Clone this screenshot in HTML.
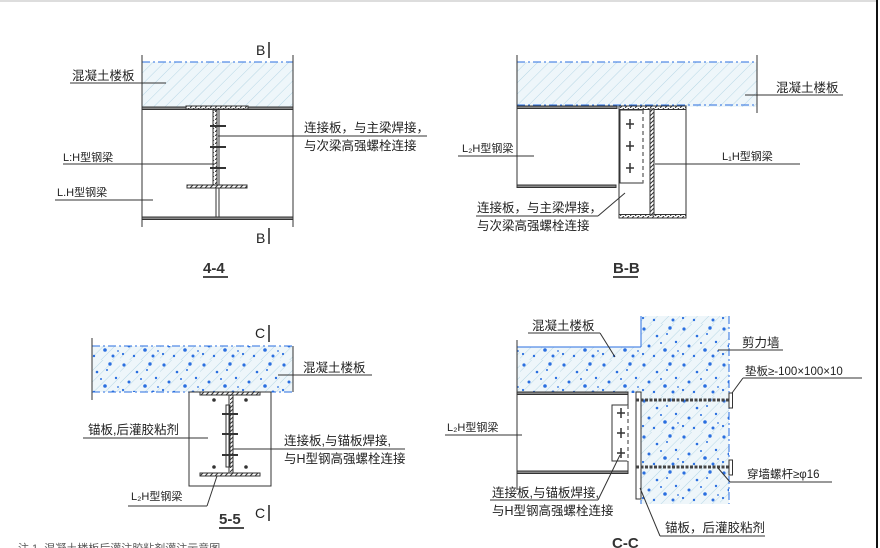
<!DOCTYPE html>
<html><head><meta charset="utf-8"><style>
html,body{margin:0;padding:0;background:#fff;}
svg{display:block;}
text{font-family:"Liberation Sans","Noto Sans CJK SC",sans-serif;font-size:12.5px;fill:#222;}
.t{font-size:15px;font-weight:bold;fill:#333;}
</style></head><body>
<svg width="880" height="548" viewBox="0 0 880 548" xmlns="http://www.w3.org/2000/svg">
<defs>
<pattern id="hat" width="8" height="8" patternUnits="userSpaceOnUse" patternTransform="rotate(45)">
<rect width="8" height="8" fill="#eef6fa"/><line x1="0" y1="0" x2="0" y2="8" stroke="#a9cfe0" stroke-width="0.8"/>
</pattern>
<pattern id="conc" width="40" height="36" patternUnits="userSpaceOnUse">
<rect width="40" height="36" fill="url(#hat)"/>
<g fill="#2a6fe0">
<circle cx="4" cy="5" r="1.6"/><circle cx="17" cy="12" r="1.3"/><circle cx="30" cy="4" r="1.7"/>
<circle cx="9" cy="22" r="1.5"/><circle cx="25" cy="26" r="1.8"/><circle cx="36" cy="18" r="1.2"/>
<circle cx="14" cy="32" r="1.2"/><circle cx="33" cy="32" r="1.5"/><circle cx="21" cy="19" r="1"/>
<circle cx="27" cy="10" r="1"/><circle cx="3" cy="30" r="1.1"/><circle cx="38" cy="27" r="0.9"/>
</g>
</pattern>
<pattern id="flg" width="5" height="4" patternUnits="userSpaceOnUse">
<rect width="5" height="4" fill="#fff"/><line x1="0" y1="4" x2="4" y2="0" stroke="#333" stroke-width="1"/>
</pattern>
</defs>

<line x1="0" y1="1" x2="877" y2="1" stroke="#bbb" stroke-width="1"/>
<line x1="877" y1="0" x2="877" y2="548" stroke="#111" stroke-width="2"/>

<g stroke="#333" fill="none" stroke-width="1">
<!-- 4-4 -->
<rect x="142" y="62" width="151" height="45" fill="url(#hat)" stroke="none"/>
<line x1="142" y1="62" x2="293" y2="62" stroke="#2a6fe0" stroke-dasharray="8,3,2,3"/>
<line x1="142" y1="55" x2="142" y2="227"/><line x1="293" y1="55" x2="293" y2="227"/>
<rect x="142" y="107" width="151" height="2.5" fill="#888"/>
<rect x="186" y="106" width="62" height="3" fill="url(#flg)"/>
<rect x="142" y="217" width="151" height="2.5" fill="#888"/>
<line x1="216" y1="109" x2="216" y2="217"/><line x1="219" y1="109" x2="219" y2="217"/>
<rect x="213" y="110" width="4" height="76" fill="url(#flg)"/>
<rect x="187" y="185" width="60" height="3" fill="url(#flg)"/>
<line x1="210" y1="126" x2="226" y2="126" stroke-width="2"/><line x1="210" y1="147" x2="226" y2="147" stroke-width="2"/><line x1="210" y1="168" x2="226" y2="168" stroke-width="2"/>
<line x1="269" y1="42" x2="269" y2="58" stroke-width="1.6"/><line x1="269" y1="228" x2="269" y2="244" stroke-width="1.6"/>
<line x1="70" y1="83" x2="166" y2="83"/>
<line x1="218" y1="136" x2="427" y2="136"/>
<line x1="63" y1="164" x2="215" y2="164"/>
<line x1="55" y1="200" x2="153" y2="200"/>
<line x1="203" y1="277" x2="228" y2="277" stroke-width="1.8"/>

<!-- B-B -->
<rect x="517" y="62" width="240" height="45" fill="url(#hat)" stroke="none"/>
<line x1="517" y1="62" x2="757" y2="62" stroke="#2a6fe0" stroke-dasharray="8,3,2,3"/>
<line x1="517" y1="105" x2="757" y2="105" stroke="#2a6fe0" stroke-dasharray="8,3,2,3"/>
<line x1="517" y1="55" x2="517" y2="188"/><line x1="757" y1="55" x2="757" y2="113"/>
<rect x="517" y="106" width="100" height="2.5" fill="#888"/>
<rect x="517" y="185" width="99" height="2.5" fill="#888"/>
<rect x="619" y="106" width="67" height="112"/>
<rect x="619" y="106" width="67" height="3.5" fill="url(#flg)"/>
<rect x="619" y="214.5" width="67" height="3.5" fill="url(#flg)"/>
<rect x="650" y="109" width="4" height="106" fill="url(#flg)"/>
<rect x="620" y="110" width="23" height="73"/>
<line x1="643" y1="110" x2="643" y2="183" stroke="#fff" stroke-width="1.5"/>
<line x1="643" y1="110" x2="643" y2="183" stroke-dasharray="4,3"/>
<g stroke-width="1.5"><line x1="630" y1="119" x2="630" y2="129"/><line x1="626" y1="124" x2="634" y2="124"/>
<line x1="630" y1="141" x2="630" y2="151"/><line x1="626" y1="146" x2="634" y2="146"/>
<line x1="630" y1="163" x2="630" y2="173"/><line x1="626" y1="168" x2="634" y2="168"/></g>
<line x1="745" y1="95" x2="843" y2="95"/>
<line x1="458" y1="156" x2="534" y2="156"/>
<line x1="655" y1="164" x2="800" y2="164"/>
<line x1="476" y1="216" x2="598" y2="216"/><line x1="598" y1="216" x2="625" y2="193"/>
<line x1="613" y1="277" x2="638" y2="277" stroke-width="1.8"/>

<!-- 5-5 -->
<rect x="92" y="346" width="201" height="46" fill="url(#conc)" stroke="none"/>
<line x1="92" y1="346" x2="293" y2="346" stroke="#2a6fe0" stroke-dasharray="8,3,2,3"/>
<line x1="92" y1="392" x2="293" y2="392" stroke="#2a6fe0" stroke-dasharray="8,3,2,3"/>
<line x1="293" y1="346" x2="293" y2="392"/><line x1="92" y1="338" x2="92" y2="400"/>
<rect x="189" y="392" width="82" height="94"/>
<rect x="200" y="392" width="60" height="3" fill="url(#flg)"/>
<rect x="200" y="473" width="60" height="3" fill="url(#flg)"/>
<rect x="229" y="395" width="4" height="78" fill="url(#flg)"/>
<rect x="226" y="405" width="4" height="62"/>
<line x1="222" y1="414" x2="238" y2="414" stroke-width="2"/><line x1="222" y1="434" x2="238" y2="434" stroke-width="2"/><line x1="222" y1="455" x2="238" y2="455" stroke-width="2"/>
<g fill="#333"><circle cx="214" cy="400" r="1.3"/><circle cx="246" cy="400" r="1.3"/><circle cx="214" cy="467" r="1.3"/><circle cx="246" cy="467" r="1.3"/></g>
<line x1="269" y1="325" x2="269" y2="342" stroke-width="1.6"/><line x1="269" y1="505" x2="269" y2="521" stroke-width="1.6"/>
<line x1="278" y1="375" x2="372" y2="375"/>
<line x1="83" y1="438" x2="208" y2="438"/>
<line x1="233" y1="449" x2="405" y2="449"/>
<line x1="128" y1="506" x2="207" y2="506"/><line x1="207" y1="506" x2="217" y2="476"/>
<line x1="219" y1="528" x2="244" y2="528" stroke-width="1.8"/>

<!-- C-C -->
<rect x="517" y="347" width="124" height="46" fill="url(#conc)" stroke="none"/>
<rect x="641" y="316" width="88" height="188" fill="url(#conc)" stroke="none"/>
<line x1="517" y1="347" x2="641" y2="347" stroke="#2a6fe0"/>
<line x1="641" y1="316" x2="641" y2="347" stroke="#2a6fe0"/>
<line x1="729" y1="316" x2="729" y2="504" stroke="#2a6fe0" stroke-dasharray="8,3,2,3"/>
<line x1="641" y1="392" x2="641" y2="504" stroke="#2a6fe0" stroke-dasharray="6,3"/>
<line x1="517" y1="340" x2="517" y2="490"/>
<rect x="517" y="392" width="111" height="2.5" fill="#888"/>
<rect x="517" y="471" width="111" height="2.5" fill="#888"/>
<line x1="628" y1="392" x2="628" y2="474"/>
<rect x="636" y="392" width="5" height="107" fill="#fff"/>
<rect x="612" y="405" width="16" height="56" fill="#fff"/>
<line x1="628" y1="405" x2="628" y2="461" stroke="#fff" stroke-width="1.5"/>
<line x1="628" y1="405" x2="628" y2="461" stroke-dasharray="4,3"/>
<g stroke-width="1.5"><line x1="621" y1="408" x2="621" y2="418"/><line x1="617" y1="413" x2="625" y2="413"/>
<line x1="621" y1="428" x2="621" y2="438"/><line x1="617" y1="433" x2="625" y2="433"/>
<line x1="621" y1="448" x2="621" y2="458"/><line x1="617" y1="453" x2="625" y2="453"/></g>
<line x1="636" y1="400" x2="731" y2="400" stroke-width="3" stroke="#444" stroke-dasharray="3,1.5"/>
<line x1="636" y1="467" x2="731" y2="467" stroke-width="3" stroke="#444" stroke-dasharray="3,1.5"/>
<rect x="729" y="393" width="3.5" height="15" fill="#fff"/>
<rect x="729" y="460" width="3.5" height="15" fill="#fff"/>
<line x1="528" y1="333" x2="600" y2="333"/><line x1="600" y1="333" x2="615" y2="357"/>
<line x1="718" y1="350" x2="783" y2="350"/>
<line x1="743" y1="378" x2="862" y2="378"/><line x1="743" y1="378" x2="732" y2="393"/>
<line x1="730" y1="482" x2="832" y2="482"/><line x1="730" y1="482" x2="718" y2="468"/>
<line x1="445" y1="435" x2="522" y2="435"/>
<line x1="490" y1="500" x2="598" y2="500"/><line x1="598" y1="500" x2="620" y2="455"/>
<line x1="660" y1="536" x2="765" y2="536"/><line x1="660" y1="536" x2="640" y2="488"/>
</g>

<text x="256" y="55" style="font-size:14px">B</text>
<text x="256" y="243" style="font-size:14px">B</text>
<text x="72" y="80">混凝土楼板</text>
<text x="304" y="132">连接板，与主梁焊接，</text>
<text x="304" y="150">与次梁高强螺栓连接</text>
<text x="63" y="161" style="font-size:11px">L:H型钢梁</text>
<text x="57" y="196" style="font-size:11px">L.H型钢梁</text>
<text class="t" x="203" y="273">4-4</text>

<text x="776" y="92">混凝土楼板</text>
<text x="462" y="152" style="font-size:11px">L₂H型钢梁</text>
<text x="722" y="160" style="font-size:11px">L₁H型钢梁</text>
<text x="477" y="212">连接板，与主梁焊接，</text>
<text x="477" y="230">与次梁高强螺栓连接</text>
<text class="t" x="613" y="273">B-B</text>

<text x="255" y="338" style="font-size:14px">C</text>
<text x="255" y="518" style="font-size:14px">C</text>
<text x="303" y="372">混凝土楼板</text>
<text x="88" y="434">锚板,后灌胶粘剂</text>
<text x="284" y="445">连接板,与锚板焊接,</text>
<text x="284" y="463">与H型钢高强螺栓连接</text>
<text x="131" y="500" style="font-size:11px">L₂H型钢梁</text>
<text class="t" x="219" y="524">5-5</text>

<text x="532" y="330">混凝土楼板</text>
<text x="742" y="347">剪力墙</text>
<text x="745" y="375" style="font-size:11.5px">垫板≥-100×100×10</text>
<text x="747" y="478" style="font-size:11.5px">穿墙螺杆≥φ16</text>
<text x="447" y="431" style="font-size:11px">L₂H型钢梁</text>
<text x="492" y="497">连接板,与锚板焊接,</text>
<text x="492" y="515">与H型钢高强螺栓连接</text>
<text x="665" y="532">锚板，后灌胶粘剂</text>
<text class="t" x="612" y="548">C-C</text>
<text x="18" y="552" style="font-size:11px;fill:#555">注 1. 混凝土楼板后灌注胶粘剂灌注示意图</text>
</svg>
</body></html>
